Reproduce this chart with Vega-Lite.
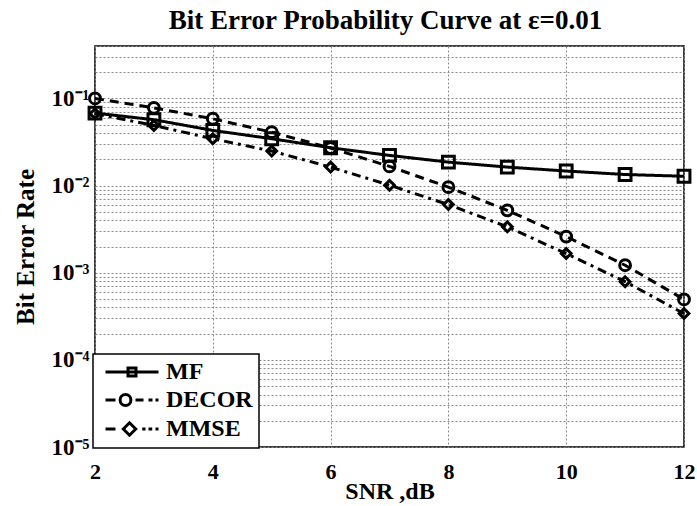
{
  "$schema": "https://vega.github.io/schema/vega-lite/v6.json",
  "width": 589,
  "height": 401,
  "autosize": {"type": "none"},
  "padding": {"left": 95, "top": 46, "right": 13, "bottom": 59},
  "background": "white",
  "config": {
    "view": {"stroke": "black", "strokeWidth": 1.5},
    "font": "Liberation Serif",
    "legend": {"strokeWidth": 1.5}
  },
  "title": {
    "text": "Bit Error Probability Curve at ε=0.01",
    "font": "Liberation Serif",
    "fontSize": 27,
    "fontWeight": "bold",
    "color": "black",
    "anchor": "middle",
    "frame": "group",
    "offset": 0,
    "dx": -4
  },
  "data": {
    "values": [
      {"snr": 2, "ber": 0.068, "series": "MF"},
      {"snr": 3, "ber": 0.057, "series": "MF"},
      {"snr": 4, "ber": 0.043, "series": "MF"},
      {"snr": 5, "ber": 0.0345, "series": "MF"},
      {"snr": 6, "ber": 0.0272, "series": "MF"},
      {"snr": 7, "ber": 0.0222, "series": "MF"},
      {"snr": 8, "ber": 0.0186, "series": "MF"},
      {"snr": 9, "ber": 0.0163, "series": "MF"},
      {"snr": 10, "ber": 0.0147, "series": "MF"},
      {"snr": 11, "ber": 0.0134, "series": "MF"},
      {"snr": 12, "ber": 0.0128, "series": "MF"},
      {"snr": 2, "ber": 0.1, "series": "DECOR"},
      {"snr": 3, "ber": 0.078, "series": "DECOR"},
      {"snr": 4, "ber": 0.0585, "series": "DECOR"},
      {"snr": 5, "ber": 0.041, "series": "DECOR"},
      {"snr": 6, "ber": 0.027, "series": "DECOR"},
      {"snr": 7, "ber": 0.0166, "series": "DECOR"},
      {"snr": 8, "ber": 0.0096, "series": "DECOR"},
      {"snr": 9, "ber": 0.0052, "series": "DECOR"},
      {"snr": 10, "ber": 0.0026, "series": "DECOR"},
      {"snr": 11, "ber": 0.00122, "series": "DECOR"},
      {"snr": 12, "ber": 0.000494, "series": "DECOR"},
      {"snr": 2, "ber": 0.0667, "series": "MMSE"},
      {"snr": 3, "ber": 0.049, "series": "MMSE"},
      {"snr": 4, "ber": 0.0345, "series": "MMSE"},
      {"snr": 5, "ber": 0.0249, "series": "MMSE"},
      {"snr": 6, "ber": 0.0163, "series": "MMSE"},
      {"snr": 7, "ber": 0.0101, "series": "MMSE"},
      {"snr": 8, "ber": 0.00605, "series": "MMSE"},
      {"snr": 9, "ber": 0.00336, "series": "MMSE"},
      {"snr": 10, "ber": 0.00166, "series": "MMSE"},
      {"snr": 11, "ber": 0.00079, "series": "MMSE"},
      {"snr": 12, "ber": 0.00034, "series": "MMSE"}
    ]
  },
  "encoding": {
    "x": {
      "field": "snr",
      "type": "quantitative",
      "scale": {"domain": [2, 12], "nice": false, "zero": false},
      "axis": {
        "values": [2, 4, 6, 8, 10, 12],
        "grid": true,
        "gridColor": "#8a8a8a",
        "gridDash": [2, 2],
        "gridWidth": 1,
        "ticks": false,
        "domain": false,
        "labelFlush": false,
        "labelFont": "Liberation Serif",
        "labelFontSize": 22,
        "labelFontWeight": "bold",
        "labelColor": "black",
        "labelBaseline": "alphabetic",
        "labelPadding": 31,
        "title": "SNR ,dB",
        "titleFont": "Liberation Serif",
        "titleFontSize": 24,
        "titleFontWeight": "bold",
        "titleColor": "black",
        "titleBaseline": "alphabetic",
        "titleY": 51
      }
    },
    "y": {
      "field": "ber",
      "type": "quantitative",
      "scale": {"type": "log", "domain": [0.00001, 0.4], "nice": false},
      "axis": {
        "values": [0.00001, 0.00002, 0.00003, 0.00004, 0.00005, 0.00006, 0.00007, 0.00008, 0.00009,
                   0.0001, 0.0002, 0.0003, 0.0004, 0.0005, 0.0006, 0.0007, 0.0008, 0.0009,
                   0.001, 0.002, 0.003, 0.004, 0.005, 0.006, 0.007, 0.008, 0.009,
                   0.01, 0.02, 0.03, 0.04, 0.05, 0.06, 0.07, 0.08, 0.09,
                   0.1, 0.2, 0.3, 0.4],
        "labelExpr": "datum.value == 0.1 ? '10⁻¹' : datum.value == 0.01 ? '10⁻²' : datum.value == 0.001 ? '10⁻³' : datum.value == 0.0001 ? '10⁻⁴' : datum.value == 0.00001 ? '10⁻⁵' : ''",
        "grid": true,
        "gridColor": "#8a8a8a",
        "gridDash": [2, 2],
        "gridWidth": 1,
        "ticks": false,
        "domain": false,
        "labelOverlap": false,
        "labelFlush": false,
        "labelFont": "Liberation Serif",
        "labelFontSize": 23,
        "labelFontWeight": "bold",
        "labelColor": "black",
        "labelBaseline": "middle",
        "labelPadding": 6,
        "title": "Bit Error Rate",
        "titleFont": "Liberation Serif",
        "titleFontSize": 25,
        "titleFontWeight": "bold",
        "titleColor": "black",
        "titleBaseline": "alphabetic",
        "titleAlign": "center",
        "titleX": -62,
        "titleY": 200.5
      }
    }
  },
  "layer": [
    {
      "mark": {"type": "line", "color": "black", "strokeWidth": 3},
      "encoding": {
        "strokeDash": {
          "field": "series",
          "type": "nominal",
          "scale": {"domain": ["MF", "DECOR", "MMSE"], "range": [[1, 0], [9, 6], [9, 5, 3, 5]]},
          "legend": null
        }
      }
    },
    {
      "mark": {"type": "point", "color": "black", "filled": false, "strokeWidth": 3, "opacity": 1},
      "encoding": {
        "shape": {
          "field": "series",
          "type": "nominal",
          "scale": {"domain": ["MF", "DECOR", "MMSE"], "range": ["square", "circle", "diamond"]},
          "legend": null
        },
        "size": {
          "field": "series",
          "type": "nominal",
          "scale": {"domain": ["MF", "DECOR", "MMSE"], "range": [140, 95, 130]},
          "legend": null
        }
      }
    },
    {
      "transform": [{"filter": "datum.snr < 0"}],
      "mark": {"type": "point", "color": "black", "filled": false},
      "encoding": {
        "shape": {
          "field": "series",
          "type": "nominal",
          "scale": {
            "domain": ["MF", "DECOR", "MMSE"],
            "range": [
              "M-0.55,0H4.75M1.7,-0.4H2.5V0.4H1.7Z",
              "M-0.55,0H0.45M0.91,0A0.54,0.54,0,1,1,1.99,0A0.54,0.54,0,1,1,0.91,0M2.45,0H3.25M3.75,0H4.15M4.45,0H4.75",
              "M-0.55,0H0.45M1.23,0L1.85,-0.62L2.47,0L1.85,0.62ZM3.12,0H3.45M3.75,0H4.12M4.45,0H4.75"
            ]
          },
          "legend": {
            "title": null,
            "orient": "none",
            "legendX": -2,
            "legendY": 308,
            "padding": 6,
            "strokeColor": "black",
            "fillColor": "white",
            "symbolSize": 400,
            "symbolStrokeWidth": 3,
            "symbolStrokeColor": "black",
            "symbolFillColor": "transparent",
            "symbolOpacity": 1,
            "labelFont": "Liberation Serif",
            "labelFontSize": 24,
            "labelFontWeight": "bold",
            "labelColor": "black",
            "labelOffset": 43,
            "rowPadding": 4
          }
        }
      }
    }
  ],
  "resolve": {"scale": {"shape": "independent", "size": "independent"}, "legend": {"shape": "independent"}}
}
